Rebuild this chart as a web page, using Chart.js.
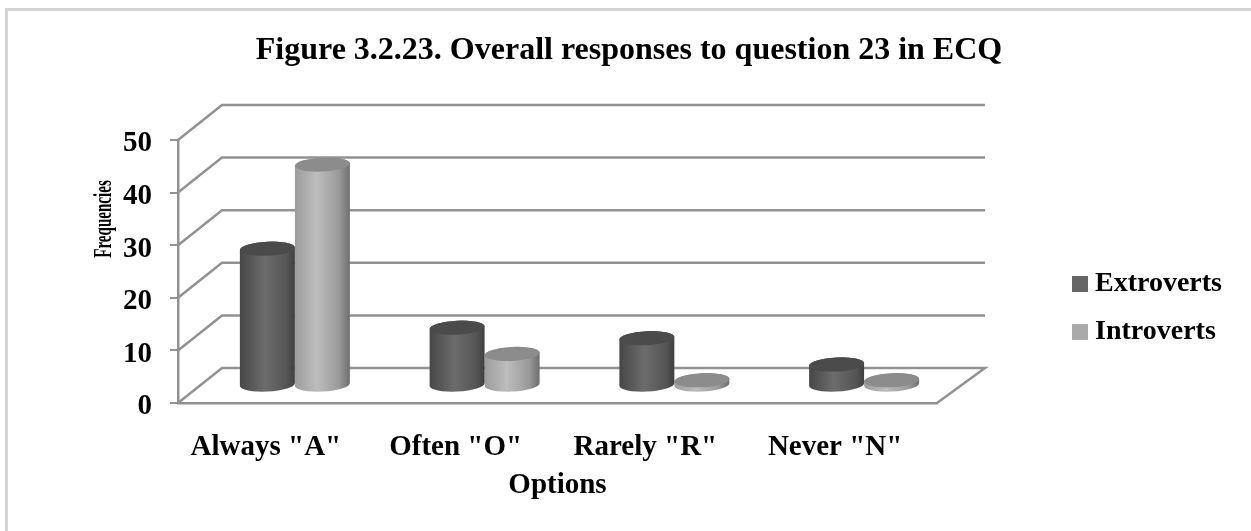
<!DOCTYPE html>
<html>
<head>
<meta charset="utf-8">
<title>Overall responses to question 23</title>
<script src="https://cdn.jsdelivr.net/npm/chart.js@4"></script>
<style>
    html, body { margin: 0; padding: 0; background: #fff; overflow: hidden; }
    #frame { position: absolute; left: 5px; top: 8px; width: 1246px; height: 523px; border-left: 3px solid #d4d4d4; border-top: 3px solid #d4d4d4; box-sizing: border-box; }
    #wrap { position: absolute; left: 0; top: 0; width: 1251px; height: 531px; }
</style>
</head>
<body>
<div id="frame"></div>
<div id="wrap"><canvas id="grafico" width="1251" height="531"></canvas></div>
<script>
const categorias = ['Always "A"', 'Often "O"', 'Rarely "R"', 'Never "N"'];
const extroverts = [26, 11, 9, 4];
const introverts = [42, 6, 1, 1];
const ticksY = [0, 10, 20, 30, 40, 50];

const SERIF = '"Liberation Serif", "Times New Roman", serif';
const COR_LINHA = '#929292';

// depth of the floor, and how far the columns sit into it
const PROF_X = 44, PROF_Y = -35;
const ELIPSE_RY = 7, INCLINA = -0.05;

function gradiente(ctx, x0, x1, paradas) {
    const g = ctx.createLinearGradient(x0, 0, x1, 0);
    paradas.forEach(([p, c]) => g.addColorStop(p, c));
    return g;
}

// back wall, floor and the side lines running to the front axis
const parede3d = {
    id: 'parede3d',
    beforeDatasetsDraw(chart) {
        const { ctx, scales: { x, y } } = chart;
        ctx.save();
        ctx.strokeStyle = COR_LINHA;
        ctx.lineWidth = 2.5;
        ticksY.forEach(v => {
            const py = y.getPixelForValue(v);
            ctx.beginPath();
            ctx.moveTo(x.left, py);
            ctx.lineTo(x.left + PROF_X, py + PROF_Y);
            ctx.lineTo(x.right + PROF_X + 4, py + PROF_Y);
            if (v === 0) ctx.lineTo(x.right, py);
            ctx.stroke();
        });
        ctx.restore();
    }
};

// columns drawn from the bar elements the controller has already placed
const cilindros = {
    id: 'cilindros',
    beforeDatasetDraw(chart, args) {
        const { ctx } = chart;
        const ds = chart.data.datasets[args.index];
        args.meta.data.forEach(barra => {
            const { x, y, base, width } = barra.getProps(['x', 'y', 'base', 'width']);
            const cx = x + PROF_X / 2, rx = width / 2;
            const topo = y + PROF_Y / 2, fundo = base + PROF_Y / 2;

            ctx.save();
            ctx.beginPath();
            ctx.ellipse(cx, fundo, rx, ELIPSE_RY, INCLINA, 0, Math.PI);
            ctx.ellipse(cx, topo, rx, ELIPSE_RY, INCLINA, Math.PI, Math.PI * 2);
            ctx.closePath();
            ctx.fillStyle = gradiente(ctx, cx - rx, cx + rx, ds.corpo);
            ctx.fill();

            ctx.beginPath();
            ctx.ellipse(cx, topo, rx, ELIPSE_RY, INCLINA, 0, Math.PI * 2);
            ctx.fillStyle = ds.tampa;
            ctx.fill();
            ctx.restore();
        });
        return false;
    }
};

// legend and the condensed vertical axis name
const textos = {
    id: 'textos',
    afterLayout(chart) {
        // the right padding reserves the legend column, the title still spans the whole canvas
        chart.titleBlock.left = 0;
        chart.titleBlock.right = 1258;
    },
    afterDraw(chart) {
        const { ctx } = chart;
        ctx.save();
        ctx.textBaseline = 'middle';
        ctx.font = 'bold 28px ' + SERIF;
        chart.data.datasets.forEach((ds, i) => {
            const py = 284 + i * 48;
            ctx.fillStyle = ds.backgroundColor;
            ctx.fillRect(1072, py - 8, 16, 16);
            ctx.fillStyle = '#000';
            ctx.fillText(ds.label, 1095, py);
        });
        ctx.translate(111, 219);
        ctx.rotate(-Math.PI / 2);
        ctx.scale(0.58, 1);
        ctx.textAlign = 'center';
        ctx.textBaseline = 'alphabetic';
        ctx.font = 'bold 26px ' + SERIF;
        ctx.fillText('Frequencies', 0, 0);
        ctx.restore();
    }
};

new Chart(document.getElementById('grafico').getContext('2d'), {
    type: 'bar',
    data: {
        labels: categorias,
        datasets: [
            {
                label: 'Extroverts', data: extroverts, backgroundColor: '#666666',
                tampa: '#4b4b4b',
                corpo: [[0, '#474747'], [0.45, '#6c6c6c'], [0.85, '#555555'], [1, '#3f3f3f']]
            },
            {
                label: 'Introverts', data: introverts, backgroundColor: '#aaaaaa',
                tampa: '#8c8c8c',
                corpo: [[0, '#9c9c9c'], [0.4, '#bdbdbd'], [0.8, '#9a9a9a'], [1, '#6e6e6e']]
            }
        ]
    },
    options: {
        responsive: false,
        animation: false,
        layout: { padding: { top: 32, right: 314, left: 0, bottom: 28 } },
        datasets: { bar: { categoryPercentage: 0.58, barPercentage: 1 } },
        plugins: {
            legend: { display: false },
            tooltip: { enabled: false },
            title: {
                display: true,
                text: 'Figure 3.2.23. Overall responses to question 23 in ECQ',
                color: '#000',
                font: { family: SERIF, size: 32, weight: 'bold' },
                padding: { top: 0, bottom: 69.6 }
            }
        },
        scales: {
            x: {
                grid: { display: false },
                border: { color: COR_LINHA, width: 2.5 },
                afterFit: s => { s.height = 100; },
                ticks: {
                    color: '#000', labelOffset: -7, padding: 19, maxRotation: 0,
                    font: { family: SERIF, size: 29, weight: 'bold' }
                },
                title: {
                    display: true, text: 'Options', color: '#000',
                    font: { family: SERIF, size: 29, weight: 'bold' },
                    padding: { top: 8, bottom: 0 }
                }
            },
            y: {
                min: 0, max: 50,
                afterFit: s => { s.width = 178; },
                grid: { drawOnChartArea: false, color: COR_LINHA, lineWidth: 2, tickLength: 8 },
                border: { color: COR_LINHA, width: 2.5 },
                afterBuildTicks: s => { s.ticks = ticksY.map(v => ({ value: v })); },
                ticks: {
                    color: '#000', padding: 18, labelOffset: 4,
                    font: { family: SERIF, size: 29, weight: 'bold' }
                }
            }
        }
    },
    plugins: [parede3d, cilindros, textos]
});
</script>
</body>
</html>
